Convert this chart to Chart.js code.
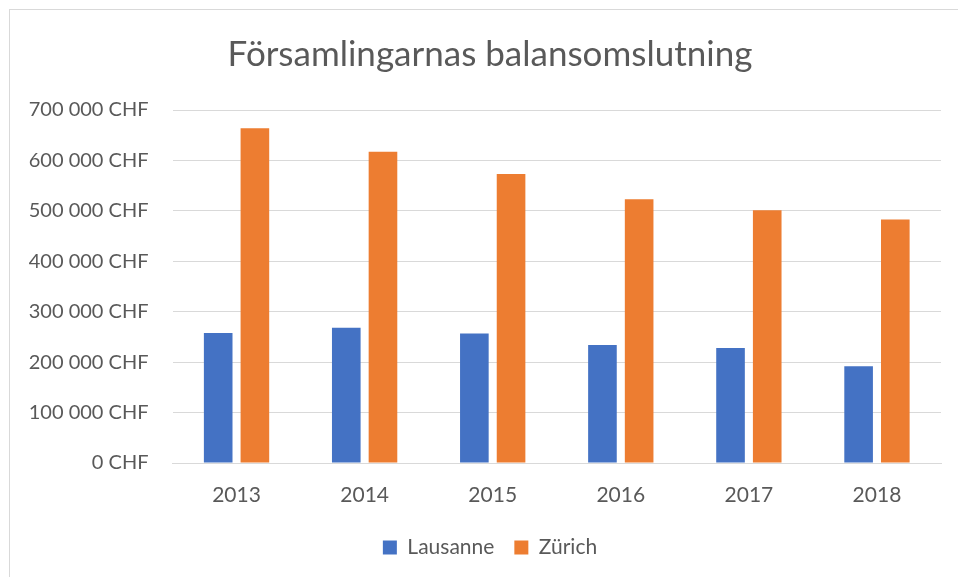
<!DOCTYPE html>
<html>
<head>
<meta charset="utf-8">
<script src="https://cdn.jsdelivr.net/npm/chart.js@4/dist/chart.umd.min.js"></script>
<style>
  html, body { margin: 0; padding: 0; background: #fff; overflow: hidden; width: 958px; height: 577px; }
  #frame { position: absolute; left: 9px; top: 9px; width: 1000px; height: 600px; border: 1px solid #d9d9d9; }
  #wrap { position: absolute; left: -19px; top: 10px; }
  canvas { display: block; }
</style>
</head>
<body>
<div id="frame"></div>
<div id="wrap"><canvas id="c" width="1018" height="567"></canvas></div>
<script>
const categories = ['2013', '2014', '2015', '2016', '2017', '2018'];
const lausanne = [258000, 268000, 257000, 234000, 228000, 192000];
const zurich = [664000, 617000, 573000, 523000, 501000, 483000];
const yTickLabels = ['0 CHF', '100 000 CHF', '200 000 CHF', '300 000 CHF', '400 000 CHF', '500 000 CHF', '600 000 CHF', '700 000 CHF'];
const seriesNames = ['Lausanne', 'Zürich'];
const titleText = 'Församlingarnas balansomslutning';

const FONT = 'Lato, "Open Sans", sans-serif';
const TXT = '#595959';

new Chart(document.getElementById('c'), {
  type: 'bar',
  data: {
    labels: categories,
    datasets: [
      { label: seriesNames[0], data: lausanne, backgroundColor: '#4472C4', borderColor: '#4472C4', borderWidth: 0, yAxisID: 'y' },
      { label: seriesNames[1], data: zurich, backgroundColor: '#ED7D31', borderColor: '#ED7D31', borderWidth: 0, yAxisID: 'y' }
    ]
  },
  options: {
    responsive: false,
    animation: false,
    datasets: { bar: { categoryPercentage: 0.573, barPercentage: 0.78 } },
    layout: { padding: { left: 0, right: 0, top: 0, bottom: 9 } },
    plugins: {
      title: {
        display: true,
        text: titleText,
        color: TXT,
        font: { family: FONT, size: 35, weight: 'normal', lineHeight: 1.2 },
        padding: { top: 24, bottom: 34 }
      },
      legend: {
        position: 'bottom',
        labels: {
          color: TXT,
          font: { family: FONT, size: 21 },
          boxWidth: 14,
          boxHeight: 14,
          padding: 20
        }
      },
      tooltip: { enabled: false }
    },
    scales: {
      x: {
        grid: { display: false, drawTicks: false },
        border: { display: true, color: '#d9d9d9', width: 1 },
        ticks: { color: TXT, font: { family: FONT, size: 21 }, padding: 20 },
        afterFit: (s) => { s.height = 54; }
      },
      y: {
        position: 'left',
        min: 0, max: 700000,
        grid: { color: '#d9d9d9', lineWidth: 1, drawTicks: false },
        border: { display: false },
        ticks: {
          stepSize: 100000,
          color: TXT,
          font: { family: FONT, size: 20 },
          padding: 24,
          callback: (v) => yTickLabels[Math.round(v / 100000)]
        },
        afterFit: (s) => { s.width = 191.5; }
      },
      spacer: {
        type: 'linear',
        position: 'right',
        min: 0, max: 700000,
        grid: { display: false, drawTicks: false },
        border: { display: false },
        ticks: { display: false },
        afterFit: (s) => { s.width = 58; }
      }
    }
  }
});
</script>
</body>
</html>
